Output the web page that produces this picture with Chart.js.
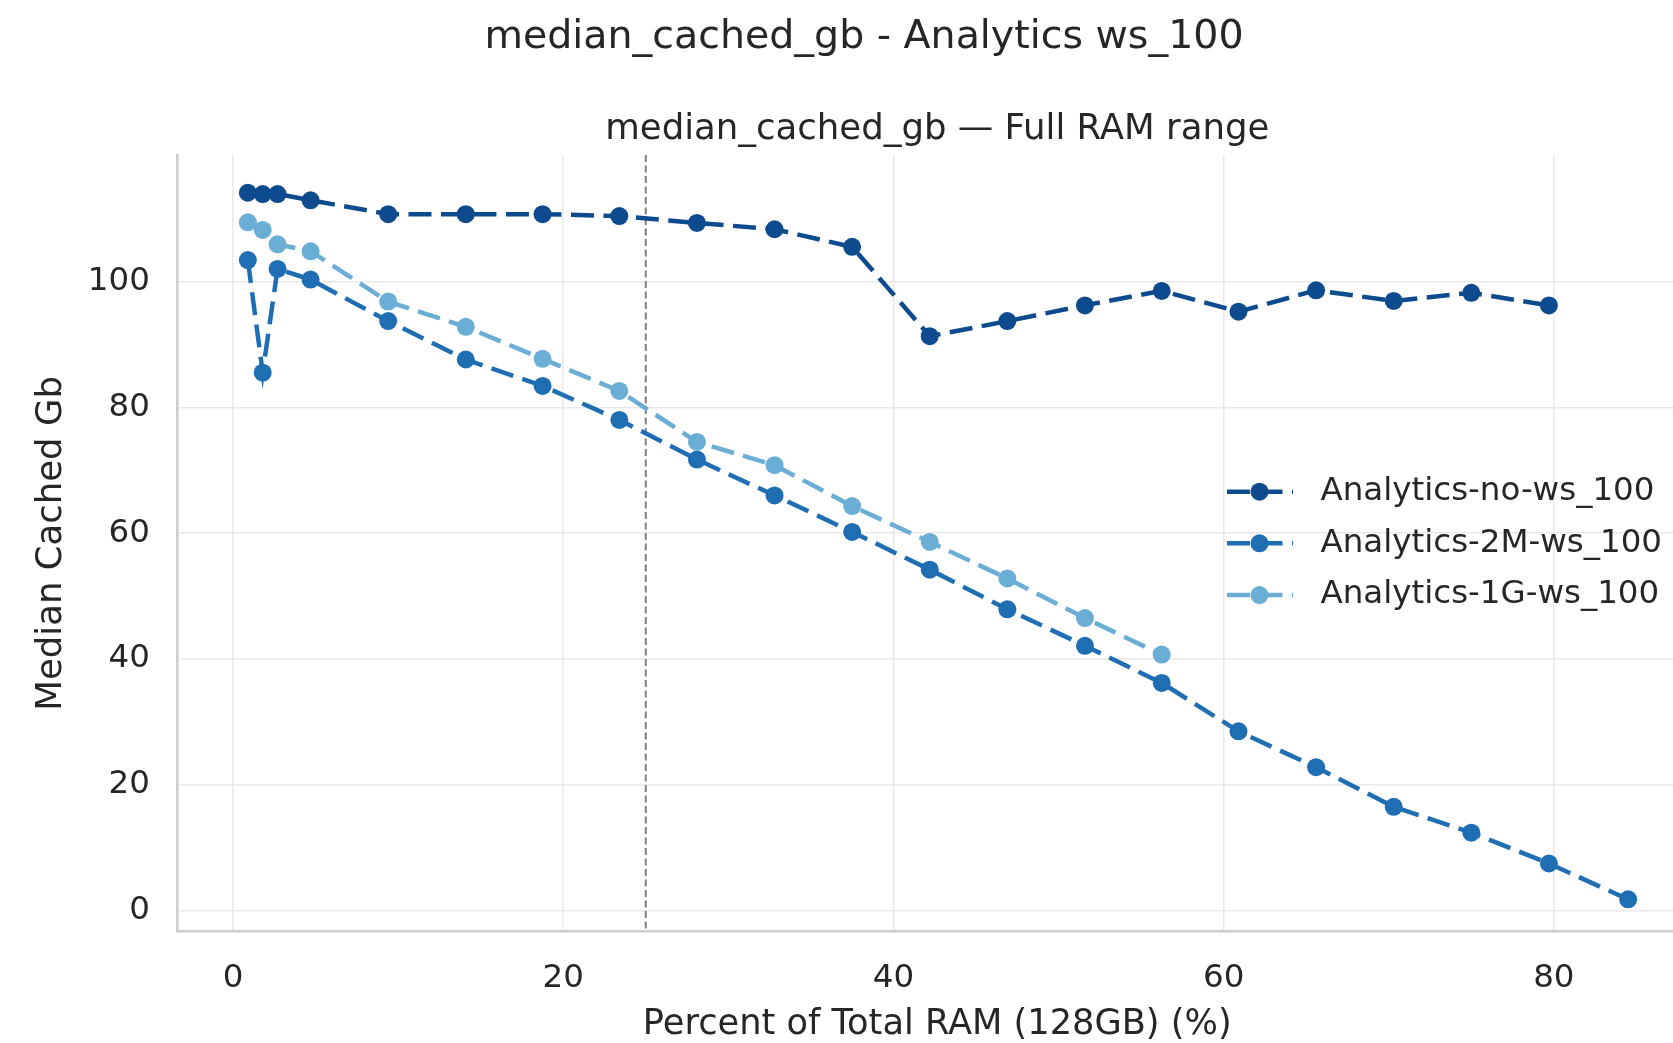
<!DOCTYPE html>
<html>
<head>
<meta charset="utf-8">
<title>median_cached_gb - Analytics ws_100</title>
<script src="https://cdn.jsdelivr.net/npm/chart.js@4.4.1/dist/chart.umd.min.js"></script>
<style>
  html, body { margin: 0; padding: 0; background: #fff; overflow: hidden; }
  #wrap { width: 1673px; height: 1043px; overflow: hidden; }
  canvas { display: block; }
</style>
</head>
<body>
<div id="wrap"><canvas id="chart" width="1728" height="1043"></canvas></div>
<script>
// percent of total RAM (x) for each run
const RAM_PCT = [0.9, 1.8, 2.7, 4.7, 9.4, 14.1, 18.75, 23.4, 28.1, 32.8, 37.5,
  42.2, 46.9, 51.6, 56.25, 60.9, 65.6, 70.3, 75.0, 79.7, 84.5];

const NO_WS = [114.1, 113.9, 113.9, 112.9, 110.7, 110.7, 110.7, 110.4, 109.3, 108.3, 105.5,
  91.3, 93.7, 96.2, 98.5, 95.2, 98.6, 96.9, 98.2, 96.2];
const WS_2M = [103.4, 85.5, 102.0, 100.3, 93.7, 87.6, 83.4, 78.0, 71.7, 66.0, 60.2,
  54.2, 47.9, 42.1, 36.2, 28.5, 22.8, 16.5, 12.4, 7.5, 1.8];
const WS_1G = [109.4, 108.2, 105.9, 104.8, 96.8, 92.8, 87.7, 82.6, 74.5, 70.8, 64.3,
  58.6, 52.8, 46.5, 40.7];

const SERIES_NAMES = ["Analytics-no-ws_100", "Analytics-2M-ws_100", "Analytics-1G-ws_100"];
const SERIES_COLORS = ["#0d4b8e", "#1f6eb3", "#6aaed6"];
const X_TICKS = [0, 20, 40, 60, 80];
const Y_TICKS = [0, 20, 40, 60, 80, 100];
const REF_LINE_X = 25;

const TEXT = "#262626";
const FONT = "'DejaVu Sans', sans-serif";
const DASH = [23, 9.5];

Chart.defaults.font.family = FONT;
Chart.defaults.color = TEXT;

function toPoints(values) {
  return values.map((y, i) => ({ x: RAM_PCT[i], y }));
}

function lineDataset(idx, values, order) {
  return {
    label: SERIES_NAMES[idx],
    data: toPoints(values),
    borderColor: SERIES_COLORS[idx],
    backgroundColor: SERIES_COLORS[idx],
    borderWidth: 4.5,
    borderDash: DASH,
    pointRadius: 9,
    pointBorderWidth: 0,
    pointBackgroundColor: SERIES_COLORS[idx],
    tension: 0,
    fill: false,
    order,
  };
}

// dashed vertical marker at 25 %
const refLine = {
  id: "refLine",
  beforeDatasetsDraw(chart) {
    const { ctx, chartArea, scales } = chart;
    const px = scales.x.getPixelForValue(REF_LINE_X);
    ctx.save();
    ctx.strokeStyle = "#808080";
    ctx.lineWidth = 2;
    ctx.setLineDash([7, 3.5]);
    ctx.beginPath();
    ctx.moveTo(px, chartArea.top);
    ctx.lineTo(px, chartArea.bottom);
    ctx.stroke();
    ctx.restore();
  },
};

// legend inside the axes, centre right
const innerLegend = {
  id: "innerLegend",
  afterDatasetsDraw(chart) {
    const { ctx, chartArea } = chart;
    const midY = (chartArea.top + chartArea.bottom) / 2;
    const x0 = chartArea.right - 470;
    ctx.save();
    chart.data.datasets
      .slice()
      .sort((a, b) => SERIES_NAMES.indexOf(a.label) - SERIES_NAMES.indexOf(b.label))
      .forEach((ds, i) => {
        const y = midY + (i - 1) * 51.7;
        ctx.strokeStyle = ds.borderColor;
        ctx.lineWidth = ds.borderWidth;
        ctx.setLineDash(DASH);
        ctx.beginPath();
        ctx.moveTo(x0, y);
        ctx.lineTo(x0 + 66, y);
        ctx.stroke();
        ctx.setLineDash([]);
        ctx.fillStyle = ds.pointBackgroundColor;
        ctx.beginPath();
        ctx.arc(x0 + 32.5, y, ds.pointRadius, 0, Math.PI * 2);
        ctx.fill();
        ctx.fillStyle = TEXT;
        ctx.font = `32.5px ${FONT}`;
        ctx.textAlign = "left";
        ctx.textBaseline = "middle";
        ctx.fillText(ds.label, x0 + 93.5, y);
      });
    ctx.restore();
  },
};

const gridStyle = { color: "#e9e9e9", lineWidth: 1.5, drawTicks: false };
const spine = { display: true, color: "#cccccc", width: 2.5 };

new Chart(document.getElementById("chart"), {
  type: "line",
  data: {
    datasets: [
      lineDataset(0, NO_WS, 2),
      lineDataset(1, WS_2M, 1),
      lineDataset(2, WS_1G, 0),
    ],
  },
  options: {
    responsive: false,
    animation: false,
    layout: { padding: { left: 31, right: 31, top: 0, bottom: 0 } },
    scales: {
      x: {
        type: "linear",
        min: -3.36,
        max: 88.67,
        afterBuildTicks(scale) { scale.ticks = X_TICKS.map((value) => ({ value })); },
        afterFit(scale) { scale.height = 111.3; },
        ticks: { includeBounds: false, padding: 27.8, font: { size: 32.5 }, color: TEXT },
        grid: gridStyle,
        border: spine,
        title: {
          display: true,
          text: "Percent of Total RAM (128GB) (%)",
          font: { size: 35.2, lineHeight: 1 },
          color: TEXT,
          padding: { top: 0, bottom: 1 },
        },
      },
      y: {
        min: -3.34,
        max: 120.1,
        afterBuildTicks(scale) { scale.ticks = Y_TICKS.map((value) => ({ value })); },
        afterFit(scale) { scale.width = 146.5; },
        ticks: { includeBounds: false, padding: 27.6, font: { size: 32.5 }, color: TEXT },
        grid: gridStyle,
        border: spine,
        title: {
          display: true,
          text: "Median Cached Gb",
          font: { size: 35.5, lineHeight: 1.1 },
          color: TEXT,
          padding: { top: 1, bottom: 0 },
        },
      },
    },
    plugins: {
      legend: { display: false },
      tooltip: { enabled: false },
      title: {
        display: true,
        text: "median_cached_gb - Analytics ws_100",
        font: { size: 39.5, weight: "normal" },
        color: TEXT,
        padding: { top: 14.3, bottom: 0 },
      },
      subtitle: {
        display: true,
        fullSize: false,
        text: "median_cached_gb — Full RAM range",
        font: { size: 35.5, weight: "normal" },
        color: TEXT,
        padding: { top: 47, bottom: 3.7 },
      },
    },
  },
  plugins: [refLine, innerLegend],
});
</script>
</body>
</html>
